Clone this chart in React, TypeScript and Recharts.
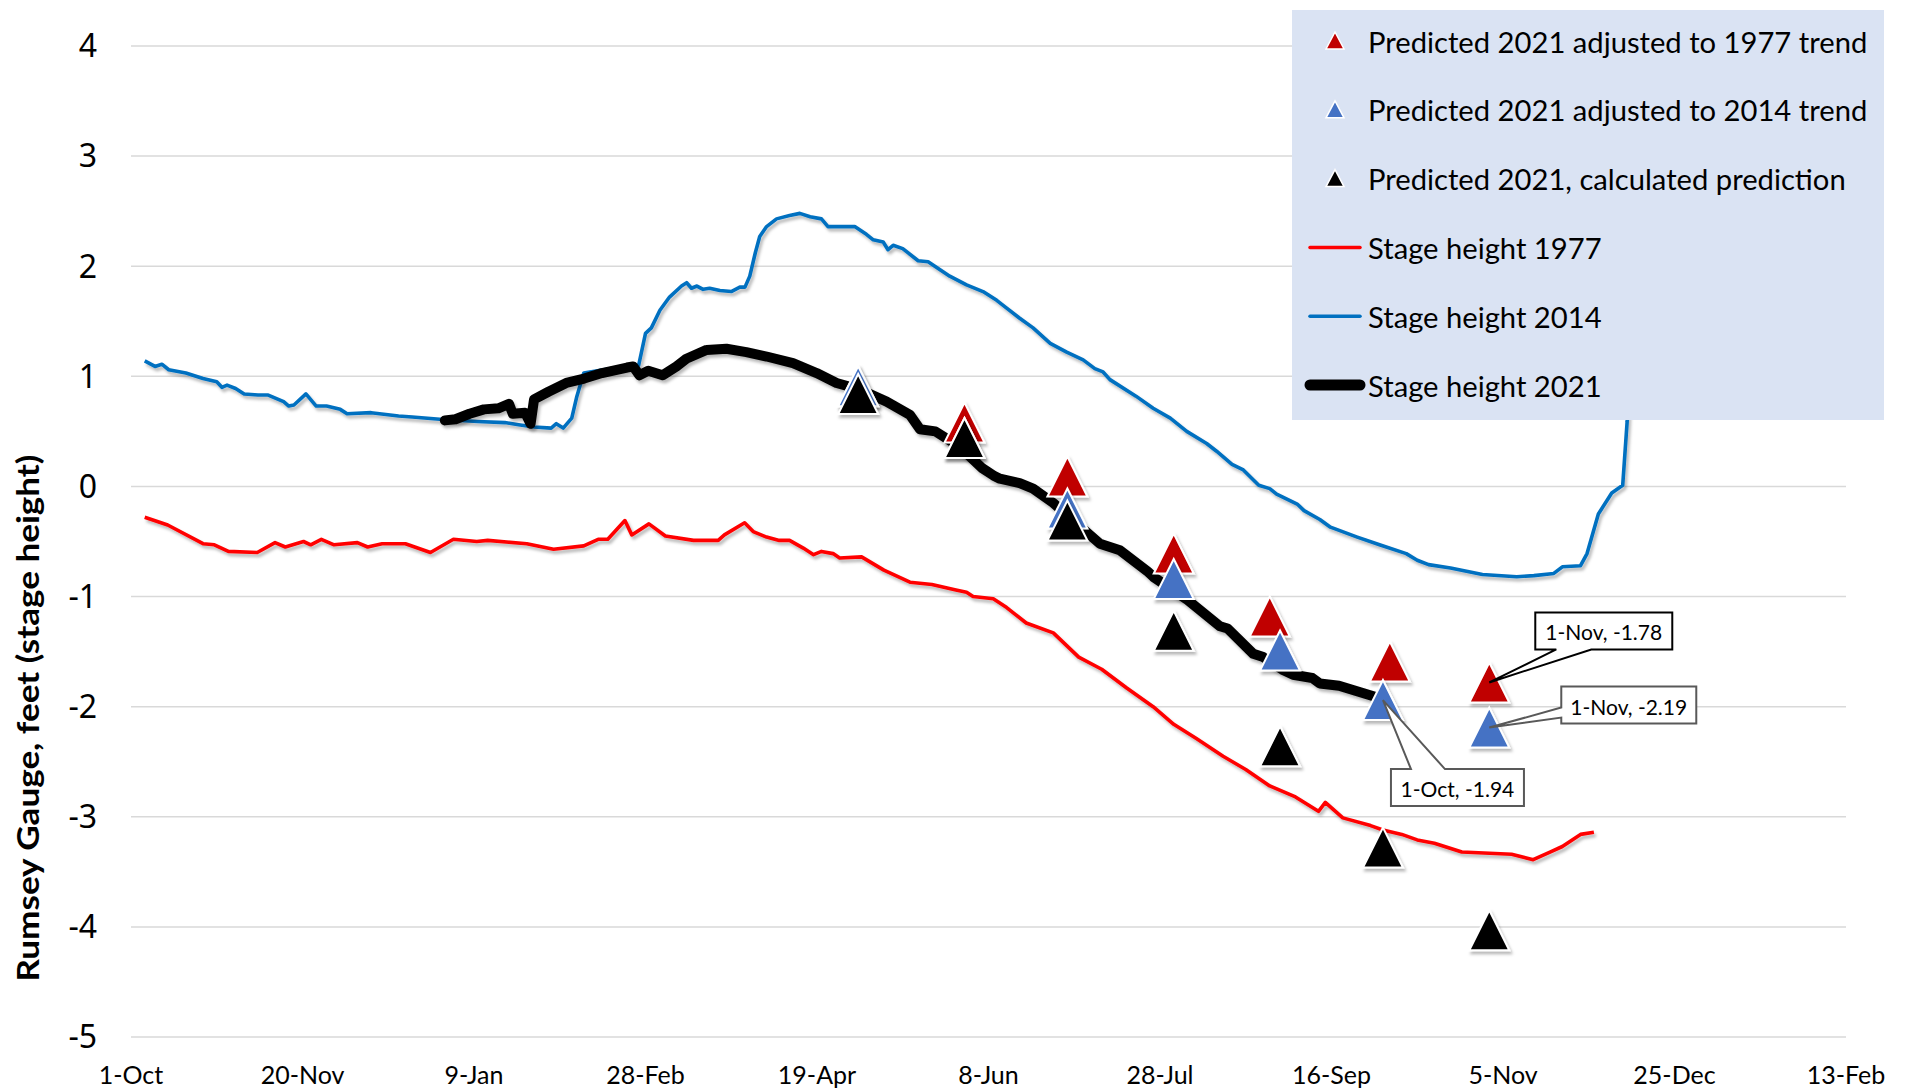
import {
  ComposedChart,
  Line,
  Scatter,
  XAxis,
  YAxis,
  CartesianGrid,
  Legend,
  Label,
  ReferenceDot,
} from "recharts";

// day 0 = 1-Oct, axis runs 500 days
const xTickDays = [0, 50, 100, 150, 200, 250, 300, 350, 400, 450, 500];
const xTickLabels = ["1-Oct", "20-Nov", "9-Jan", "28-Feb", "19-Apr", "8-Jun", "28-Jul", "16-Sep", "5-Nov", "25-Dec", "13-Feb"];
const yTicks = [-5, -4, -3, -2, -1, 0, 1, 2, 3, 4];

// [day, stage height]
const stage1977: [number, number][] = [
  [4, -0.28], [10.7, -0.35], [21, -0.52], [24.3, -0.53], [28.4, -0.59], [36.8, -0.6], [42, -0.51], [45, -0.55],
  [50.3, -0.5], [52.4, -0.53], [55.5, -0.48], [59.2, -0.53], [66, -0.51], [69, -0.55], [73.2, -0.52], [80, -0.52],
  [87.3, -0.6], [94, -0.48], [100.8, -0.5], [104, -0.49], [115.4, -0.52], [123.2, -0.57], [132, -0.54], [136.2, -0.48],
  [139, -0.48], [144, -0.31], [146, -0.44], [151, -0.34], [155.8, -0.45], [164, -0.49], [171.2, -0.49], [173, -0.44],
  [178.9, -0.33], [181.4, -0.41], [185.3, -0.46], [189, -0.49], [192, -0.49], [196, -0.56], [199, -0.62], [201.3, -0.59],
  [204.7, -0.61], [206.6, -0.65], [213, -0.64], [219.5, -0.76], [227.1, -0.87], [233.5, -0.89], [240.5, -0.94],
  [243.6, -0.96], [245.5, -1.0], [251.4, -1.02], [255.3, -1.1], [261, -1.24], [268.9, -1.33], [276.3, -1.55],
  [283, -1.66], [290.3, -1.83], [298, -2.0], [304, -2.16], [310.6, -2.29], [318.4, -2.45], [325, -2.57], [332, -2.72],
  [339.5, -2.82], [346.2, -2.95], [348.2, -2.87], [353.3, -3.01], [361.4, -3.08], [365, -3.12], [370.5, -3.16],
  [375, -3.21], [380, -3.24], [388, -3.32], [402.5, -3.34], [408.8, -3.39], [413.7, -3.32], [417.3, -3.27],
  [422.6, -3.16], [426.5, -3.14],
];

const stage2014: [number, number][] = [
  [4, 1.14], [7, 1.09], [9, 1.11], [11, 1.06], [16, 1.03], [21, 0.98], [25, 0.95], [26.5, 0.9], [28, 0.92], [30.5, 0.89],
  [33, 0.84], [37, 0.83], [40, 0.83], [44.5, 0.77], [46, 0.73], [47.5, 0.74], [51, 0.84], [54, 0.73], [57, 0.73],
  [61, 0.7], [63, 0.66], [70, 0.67], [78, 0.64], [82, 0.63], [90, 0.61], [101, 0.59], [109, 0.58], [113, 0.56],
  [117.5, 0.54], [122.5, 0.53], [124, 0.57], [126, 0.53], [128.5, 0.62], [130, 0.82], [132, 1.03], [136, 1.05],
  [140, 1.07], [144, 1.09], [148, 1.1], [150, 1.39], [151.7, 1.44], [154.2, 1.6], [157, 1.72], [160.5, 1.82],
  [162, 1.85], [163.4, 1.8], [165, 1.82], [166.8, 1.79], [168.7, 1.8], [171.7, 1.78], [175, 1.77], [177.5, 1.81],
  [179, 1.81], [180.4, 1.91], [182, 2.12], [183.3, 2.27], [185.3, 2.36], [188.2, 2.43], [192, 2.46], [195, 2.48],
  [198, 2.45], [201.3, 2.43], [203.2, 2.36], [204.7, 2.36], [211, 2.36], [214.4, 2.29], [216.4, 2.24], [219.3, 2.22],
  [220.7, 2.15], [222.2, 2.19], [225, 2.16], [229.5, 2.05], [232.4, 2.04], [238.7, 1.91], [243.6, 1.83], [248.4, 1.77],
  [252.4, 1.69], [255.3, 1.62], [259, 1.53], [263, 1.44], [268, 1.3], [272.8, 1.22], [277.6, 1.15], [281, 1.07],
  [283.4, 1.04], [285.4, 0.97], [293, 0.82], [298, 0.71], [303, 0.62], [307.8, 0.5], [313.6, 0.39], [316.5, 0.32],
  [321, 0.2], [324.3, 0.15], [328.8, 0.01], [332, -0.02], [334, -0.07], [340, -0.16], [342, -0.22], [346.6, -0.3],
  [349.7, -0.37], [357.5, -0.46], [364, -0.53], [371.8, -0.61], [375, -0.67], [378.3, -0.71], [384.7, -0.74],
  [394, -0.8], [404, -0.82], [409, -0.81], [414.8, -0.79], [417.3, -0.73], [422.6, -0.72], [424.5, -0.61],
  [427.8, -0.25], [431.7, -0.06], [434.9, 0.01], [436.2, 0.59], [437, 1.3],
];

const stage2021: [number, number][] = [
  [91.5, 0.6], [94.6, 0.61], [98.7, 0.66], [102.9, 0.7], [107.1, 0.71], [110.2, 0.75], [111.3, 0.66], [114.9, 0.67],
  [116.5, 0.57], [117.5, 0.79], [121.7, 0.86], [126.9, 0.94], [132.1, 0.98], [137.3, 1.03], [144.6, 1.08],
  [146.4, 1.09], [148.2, 1.01], [150.8, 1.05], [155, 1.01], [159, 1.09], [161.9, 1.16], [167.8, 1.24], [173.6, 1.25],
  [179.4, 1.22], [185.3, 1.18], [193, 1.12], [199.9, 1.03], [205.7, 0.94], [212.5, 0.88], [220.3, 0.77],
  [227.1, 0.65], [230, 0.52], [234.5, 0.5], [241.6, 0.36], [248, 0.17], [251.4, 0.1], [253.3, 0.07], [259.1, 0.03],
  [263, -0.02], [268.9, -0.15], [274.7, -0.31], [282.5, -0.52], [288.3, -0.58], [296.3, -0.77], [298, -0.82],
  [308, -1.03], [317.5, -1.27], [319.7, -1.29], [327.2, -1.52], [330.1, -1.55], [336, -1.67], [338.8, -1.71],
  [344.4, -1.74], [346.6, -1.79], [352.2, -1.81], [362.7, -1.91], [365, -1.94],
];

// monthly predictions (1-May .. 1-Nov)
const pred1977Days = [212, 243, 273, 304, 332, 367, 396];
const pred1977Values = [0.91, 0.58, 0.09, -0.61, -1.18, -1.59, -1.78];
const pred2014Days = [212, 243, 273, 304, 335, 365, 396];
const pred2014Values = [0.91, 0.44, -0.2, -0.84, -1.49, -1.94, -2.19];
const predCalcDays = [212, 243, 273, 304, 335, 365, 396];
const predCalcValues = [0.84, 0.44, -0.31, -1.31, -2.36, -3.28, -4.03];

const calloutDays = [396, 396, 365];
const calloutValues = [-1.78, -2.19, -1.94];
const calloutLabels = ["1-Nov, -1.78", "1-Nov, -2.19", "1-Oct, -1.94"];

const toRows = (pairs: [number, number][]) => pairs.map(([day, value]) => ({ day, value }));
const zipRows = (days: number[], values: number[]) => days.map((day, i) => ({ day, value: values[i] }));

const FONT = "Lato, 'Open Sans', sans-serif";

const triangle = (fill: string, size: number) => (props: any) => {
  const { cx, cy } = props;
  if (cx == null || cy == null) return <g />;
  const h = size / 2;
  return (
    <polygon
      points={`${cx},${cy - h} ${cx + h},${cy + h} ${cx - h},${cy + h}`}
      fill={fill}
      stroke="#ffffff"
      strokeWidth={2}
      filter="url(#softShadow)"
    />
  );
};

// pointer wedge side and box offsets relative to the labelled point
const calloutLayout = [
  { x: 46, y: -70, w: 137, h: 37, side: "bottom", a: 67, b: 102, border: "#000000" },
  { x: 72, y: -41, w: 135, h: 37, side: "left", a: -20, b: -10, border: "#595959" },
  { x: 8, y: 69, w: 133, h: 37, side: "top", a: 28, b: 62, border: "#595959" },
];

const callout = (label: string, l: (typeof calloutLayout)[number]) => (props: any) => {
  const { cx, cy } = props;
  if (cx == null || cy == null) return <g />;
  const X = cx + l.x, Y = cy + l.y;
  let pts: number[][];
  if (l.side === "top") {
    pts = [[X, Y], [cx + l.a, Y], [cx, cy], [cx + l.b, Y], [X + l.w, Y], [X + l.w, Y + l.h], [X, Y + l.h]];
  } else if (l.side === "bottom") {
    pts = [[X, Y], [X + l.w, Y], [X + l.w, Y + l.h], [cx + l.b, Y + l.h], [cx, cy], [cx + l.a, Y + l.h], [X, Y + l.h]];
  } else {
    pts = [[X, Y], [X + l.w, Y], [X + l.w, Y + l.h], [X, Y + l.h], [X, cy + l.b], [cx, cy], [X, cy + l.a]];
  }
  return (
    <g>
      <polygon points={pts.map((p) => p.join(",")).join(" ")} fill="#ffffff" stroke={l.border} strokeWidth={2} />
      <text
        x={X + l.w / 2}
        y={Y + l.h / 2 + 1}
        textAnchor="middle"
        dominantBaseline="central"
        fontFamily={FONT}
        fontSize={21}
        fill="#000"
      >
        {label}
      </text>
    </g>
  );
};

const legendRows = [
  { name: "Predicted 2021 adjusted to 1977 trend", kind: "marker", color: "#C00000", width: 0 },
  { name: "Predicted 2021 adjusted to 2014 trend", kind: "marker", color: "#4472C4", width: 0 },
  { name: "Predicted 2021, calculated prediction", kind: "marker", color: "#000000", width: 0 },
  { name: "Stage height 1977", kind: "line", color: "#FF0000", width: 3.5 },
  { name: "Stage height 2014", kind: "line", color: "#0070C0", width: 3.5 },
  { name: "Stage height 2021", kind: "line", color: "#000000", width: 11 },
];

const renderLegend = () => (
  <svg width={592} height={410} style={{ display: "block" }}>
    {legendRows.map((row, i) => {
      const cy = 31 + i * 68.8;
      return (
        <g key={row.name}>
          {row.kind === "marker" ? (
            <polygon
              points={`${43},${cy - 9} ${52},${cy + 8} ${34},${cy + 8}`}
              fill={row.color}
              stroke="#ffffff"
              strokeWidth={1.5}
            />
          ) : (
            <line x1={18} x2={68} y1={cy} y2={cy} stroke={row.color} strokeWidth={row.width} strokeLinecap="round" />
          )}
          <text x={76} y={cy} dominantBaseline="central" fontFamily={FONT} fontSize={29.2} fill="#000">
            {row.name}
          </text>
        </g>
      );
    })}
  </svg>
);

export default function App() {
  return (
    <div style={{ position: "absolute", left: 0, top: 0, width: 1908, height: 1092, background: "#fff" }}>
      <ComposedChart width={1908} height={1092} margin={{ top: 46, right: 62, bottom: 0, left: 31 }}>
        <CartesianGrid vertical={false} stroke="#D9D9D9" strokeWidth={1.5} />
        <XAxis
          type="number"
          dataKey="day"
          domain={[0, 500]}
          ticks={xTickDays}
          tickFormatter={(v: number) => xTickLabels[xTickDays.indexOf(v)] ?? ""}
          axisLine={false}
          tickLine={false}
          tickSize={8}
          tickMargin={21}
          height={55}
          interval={0}
          tick={{ fontFamily: FONT, fontSize: 25, fill: "#000" }}
        />
        <YAxis
          type="number"
          dataKey="value"
          domain={[-5, 4]}
          ticks={yTicks}
          axisLine={false}
          tickLine={false}
          tickSize={8}
          tickMargin={26}
          width={100}
          interval={0}
          tick={{ fontFamily: "'Noto Sans', sans-serif", fontSize: 32, fill: "#000" }}
        >
          <Label
            content={() => (
              <g>
                <defs>
                  <filter id="softShadow" filterUnits="userSpaceOnUse" x="0" y="0" width="1908" height="1092">
                    <feDropShadow dx="2" dy="3" stdDeviation="1.8" floodColor="#000" floodOpacity="0.28" />
                  </filter>
                </defs>
                <text
                  x={27}
                  y={718}
                  transform="rotate(-90 27 718)"
                  textAnchor="middle"
                  dominantBaseline="central"
                  fontFamily={FONT}
                  fontWeight={700}
                  fontSize={30}
                  textLength={527}
                  lengthAdjust="spacingAndGlyphs"
                  fill="#000"
                >
                  Rumsey Gauge, feet (stage height)
                </text>
              </g>
            )}
          />
        </YAxis>
        <Legend
          layout="horizontal"
          verticalAlign="middle"
          align="center"
          content={renderLegend}
          wrapperStyle={{ left: 1292, top: 10, width: 592, height: 410, background: "#DAE3F3" }}
        />
        <Line
          data={toRows(stage1977)}
          dataKey="value"
          name="Stage height 1977"
          stroke="#FF0000"
          strokeWidth={3.6}
          strokeLinejoin="round"
          dot={false}
          activeDot={false}
          type="linear"
          filter="url(#softShadow)"
          isAnimationActive={false}
        />
        <Line
          data={toRows(stage2014)}
          dataKey="value"
          name="Stage height 2014"
          stroke="#0070C0"
          strokeWidth={3.6}
          strokeLinejoin="round"
          dot={false}
          activeDot={false}
          type="linear"
          filter="url(#softShadow)"
          isAnimationActive={false}
        />
        <Line
          data={toRows(stage2021)}
          dataKey="value"
          name="Stage height 2021"
          stroke="#000000"
          strokeWidth={10}
          strokeLinejoin="round"
          strokeLinecap="round"
          dot={false}
          activeDot={false}
          type="linear"
          filter="url(#softShadow)"
          isAnimationActive={false}
        />
        <Scatter
          data={zipRows(pred1977Days, pred1977Values)}
          dataKey="value"
          name="Predicted 2021 adjusted to 1977 trend"
          shape={triangle("#C00000", 40)}
          isAnimationActive={false}
        />
        <Scatter
          data={zipRows(pred2014Days, pred2014Values)}
          dataKey="value"
          name="Predicted 2021 adjusted to 2014 trend"
          shape={triangle("#4472C4", 40)}
          isAnimationActive={false}
        />
        <Scatter
          data={zipRows(predCalcDays, predCalcValues)}
          dataKey="value"
          name="Predicted 2021, calculated prediction"
          shape={triangle("#000000", 40)}
          isAnimationActive={false}
        />
        {calloutDays.map((d, i) => (
          <ReferenceDot
            key={calloutLabels[i]}
            x={d}
            y={calloutValues[i]}
            r={0}
            ifOverflow="visible"
            shape={callout(calloutLabels[i], calloutLayout[i])}
          />
        ))}
      </ComposedChart>
    </div>
  );
}
